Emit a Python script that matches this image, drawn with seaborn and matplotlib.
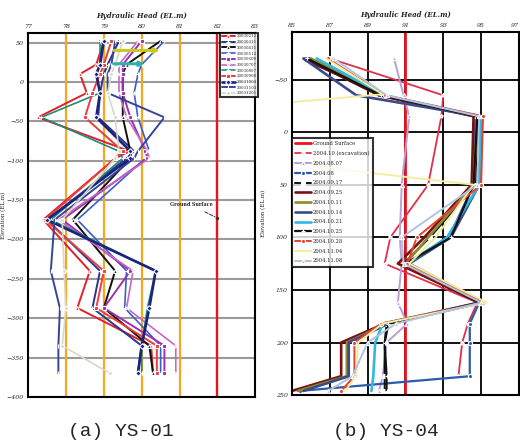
import matplotlib
matplotlib.use('Agg')
import numpy as np
import pandas as pd
import matplotlib.pyplot as plt
import seaborn as sns

sns.set_theme(style="white")
plt.rcParams['font.family'] = ['DejaVu Serif', 'DejaVu Sans']

# ---------------- (a) YS-01 ----------------
depth_a = [52, 22, 10, -14, -45, -88, -97, -175, -240, -287, -335, -370]
fechas_a = ["20030212", "20030311", "20030411", "20030512", "20030609", "20030707",
            "20030807", "20030908", "20031004", "20031103", "20031201"]
head_a = [
    [79.0, 78.8, 78.37, 78.55, 77.26, 79.68, 79.3, 77.4, 78.63, 78.3, 80.25, 80.3],
    [79.4, 79.1, 79.0, 78.9, 78.85, 79.8, 79.6, 77.5, 78.9, 78.7, 80.0, 79.9],
    [80.5, 79.6, 79.5, 79.5, 79.5, 79.7, 79.7, 78.18, 79.3, 79.0, 80.2, 80.3],
    [80.6, 80.0, 79.9, 79.8, 79.9, 80.2, 80.1, 78.3, 79.6, 79.55, 80.5, 80.5],
    [80.0, 79.5, 79.5, 79.5, 79.7, 80.1, 80.15, 77.9, 79.7, 79.0, 80.6, 80.6],
    [79.9, 79.4, 79.4, 79.4, 79.6, 80.15, 80.2, 77.8, 79.77, 79.6, 80.9, 80.9],
    [78.9, 78.9, 78.8, 78.9, 77.35, 79.4, 79.5, 77.6, 80.37, 80.15, 80.0, 80.0],
    [79.2, 79.0, 78.9, 78.7, 78.5, 79.5, 79.3, 77.45, 79.0, 78.8, 80.4, 80.4],
    [79.0, 78.9, 78.8, 78.9, 78.8, 79.7, 79.7, 77.5, 80.37, 80.2, 80.0, 79.9],
    [79.3, 79.2, 79.1, 79.1, 80.6, 79.9, 79.8, 77.7, 77.6, 77.84, 77.8, 77.8],
    [79.5, 79.3, 79.2, 79.1, 79.3, 79.4, 79.3, 77.9, 77.95, 78.0, 77.9, 79.16],
]
colores_a = ["#E0202A", "#2A3590", "#111111", "#3A5FCD", "#9B30B0", "#C468C4",
             "#1E8C7A", "#EE3B3B", "#1A237E", "#34449A", "#D8D8C4"]
marcas_a = ["^", "+", "^", "+", "s", "x", "+", "s", "D", "|", "o"]
anchos_a = [1.4, 1.4, 1.4, 1.2, 1.4, 1.2, 1.2, 1.4, 1.9, 1.4, 1.2]

gs_a_head = [82, 82]
gs_a_depth = [-400, 62]
flecha_depth = [40, 23]
flecha_ini = [79.2, 79.2]
flecha_fin = [80.55, 80.15]
flecha_col = ["#C8C820", "#30B0A8"]

# ---------------- (b) YS-04 ----------------
depth_b = [-70, -35, -15, 50, 100, 125, 162, 182, 200, 232, 246]
fechas_b = ["Ground Surface", "2004.10 (excavation)", "2004.08.07", "2004.08",
            "2004.09.17", "2004.09.25", "2004.10.11", "2004.10.14", "2004.10.21",
            "2004.10.25", "2004.10.28", "2004.11.04", "2004.11.08"]
gs_b_head = [91, 91]
gs_b_depth = [-100, 260]
head_b = [
    [87.0, 93.0, 92.9, 92.2, 90.2, 89.9, 94.8, 94.3, 94.0, 93.8, np.nan],
    [90.4, 90.9, 91.2, 90.8, 90.7, 90.8, 90.6, 91.1, 90.0, 89.8, 89.6],
    [85.9, 89.6, 94.7, 94.6, 93.3, 91.0, 94.9, 94.4, 94.4, 94.4, 85.4],
    [85.5, 89.8, 94.8, 94.7, 92.3, 90.9, 95.0, 90.0, 89.9, 89.9, 89.9],
    [85.7, 89.6, 94.6, 94.5, 92.0, 90.6, 94.9, 89.9, 87.6, 87.6, 85.0],
    [86.0, 89.9, 94.8, 94.6, 92.2, 91.0, 95.0, 90.0, 87.9, 87.9, 85.3],
    [85.6, 88.4, 94.9, 94.9, 93.4, 91.2, 95.1, 90.1, 88.0, 88.0, 85.6],
    [86.3, 89.9, 95.0, 94.9, 93.2, 91.1, 95.0, 89.8, 89.4, 89.3, 89.2],
    [85.8, 89.7, 94.8, 94.6, 93.4, 91.0, 94.9, 90.1, 89.9, 90.0, 90.0],
    [86.9, 89.9, 95.1, 95.0, 91.6, 91.1, 95.1, 89.7, 88.3, 88.3, 87.6],
    None,
    [87.2, 90.0, 94.9, 94.8, 90.8, 90.9, 95.0, 90.5, 89.0, 88.2, 86.9],
]
amarillo_depth = [-70, -36, -27, 28, 50, 100, 125, 162, 182, 200, 232, 246]
amarillo_head = [86.8, 89.8, 84.0, 84.0, 94.6, 92.6, 91.2, 95.3, 89.8, 88.5, 88.4, 87.8]
colores_b = ["#E8141C", "#E0304A", "#B8A0D8", "#2E5AAC", "#111111", "#7A1010",
             "#8A8A30", "#3A4A8A", "#30B8E0", "#111111", "#E84030", "#F2EEA0", "#B0C4E0"]
marcas_b = [None, "*", "^", "o", "s", None, None, None, None, "+", "o", None, "^"]
anchos_b = [2.0, 1.3, 1.4, 1.6, 1.4, 1.9, 1.9, 1.9, 1.9, 1.6, 1.4, 1.4, 1.4]

fig = plt.figure(figsize=(5.2, 4.47), dpi=100)
ax1 = fig.add_axes([0.054, 0.112, 0.437, 0.814])
ax2 = fig.add_axes([0.5615, 0.116, 0.4365, 0.812])

# --- panel a ---
ax1.set_xlim(77, 83)
ax1.set_ylim(-400, 62)
ax1.set_xticks(range(77, 84))
ax1.set_yticks(range(-400, 51, 50))
ax1.grid(axis='y', color='#9a9a9a', lw=1.5)
for xv in [78, 79, 80, 81]:
    ax1.axvline(xv, color='#F5A623', lw=1.6, zorder=1)
sns.lineplot(x=gs_a_head, y=gs_a_depth, ax=ax1, color='#E8141C', lw=1.7,
             sort=False, estimator=None)
for i, serie in enumerate(head_a):
    sns.lineplot(x=serie, y=depth_a, ax=ax1, sort=False, estimator=None, orient='y',
                 color=colores_a[i], marker=marcas_a[i], markersize=2.8, mew=0.8,
                 lw=anchos_a[i], label=fechas_a[i])
for i in range(len(flecha_depth)):
    ax1.annotate('', xy=(flecha_fin[i], flecha_depth[i]), xytext=(flecha_ini[i], flecha_depth[i]),
                 arrowprops=dict(arrowstyle='-|>', color=flecha_col[i], lw=2.2,
                                 mutation_scale=6), zorder=5)
ax1.annotate('Ground Surface', xy=(82, -173), xytext=(81.3, -156), fontsize=3.4,
             fontweight='bold', ha='center', va='center',
             arrowprops=dict(arrowstyle='-', ls='--', color='#333333', lw=0.7))
ax1.plot([82], [-173], 'o', color='#333333', ms=1.5)
ax1.legend(loc='upper right', bbox_to_anchor=(1.012, 1.0), fontsize=2.9, frameon=True,
           fancybox=False, edgecolor='black', labelspacing=0.42, handlelength=3.2,
           borderpad=0.35, handletextpad=0.4, borderaxespad=0.0).get_frame().set_linewidth(1.5)

# --- panel b ---
ax2.set_xlim(85, 97)
ax2.set_ylim(250, -95)
ax2.set_xticks(range(85, 98, 2))
ax2.set_yticks(range(-50, 251, 50))
ax2.grid(color='#111111', lw=1.4)
sns.lineplot(x=gs_b_head, y=gs_b_depth, ax=ax2, sort=False, estimator=None,
             color=colores_b[0], lw=anchos_b[0], label=fechas_b[0])
for i, serie in enumerate(head_b):
    k = i + 1
    if serie is None:
        xs, ys = amarillo_head, amarillo_depth
    else:
        xs, ys = serie, depth_b
    kw = dict(marker=marcas_b[k], markersize=3, mew=0.8) if marcas_b[k] else {}
    if marcas_b[k] == 's' and colores_b[k] == '#111111':
        kw['mfc'] = 'white'
    sns.lineplot(x=xs, y=ys, ax=ax2, sort=False, estimator=None, orient='y',
                 color=colores_b[k], lw=anchos_b[k], label=fechas_b[k], **kw)
ax2.legend(loc='upper left', bbox_to_anchor=(0.0, 0.708), fontsize=3.8, frameon=True,
           fancybox=False, edgecolor='black', labelspacing=0.9, handlelength=3.0,
           borderpad=0.6, handletextpad=0.4, borderaxespad=0.0).get_frame().set_linewidth(1.5)

for ax in (ax1, ax2):
    ax.xaxis.tick_top()
    ax.xaxis.set_label_position('top')
    ax.set_xlabel('Hydraulic Head (EL.m)', fontsize=5, fontstyle='italic',
                  fontweight='bold', labelpad=4)
    ax.set_ylabel('Elevation (EL.m)', fontsize=4)
    ax.tick_params(axis='both', labelsize=4.5, length=0, pad=3)
    for lab in ax.get_xticklabels() + ax.get_yticklabels():
        lab.set_fontstyle('italic')
    for sp in ax.spines.values():
        sp.set_color('black')
        sp.set_linewidth(1.5)
    ax.set_axisbelow(True)
ax1.yaxis.set_label_coords(-0.095, 0.5)
ax2.yaxis.set_label_coords(-0.115, 0.5)
ax2.get_xticklabels()[-1].set_horizontalalignment('right')

fig.text(0.233, 0.034, '(a) YS-01', fontsize=14, family=['Liberation Mono', 'DejaVu Sans Mono'],
         ha='center', va='center')
fig.text(0.742, 0.034, '(b) YS-04', fontsize=14, family=['Liberation Mono', 'DejaVu Sans Mono'],
         ha='center', va='center')

fig.savefig('out.png', dpi=100)
plt.close(fig)
